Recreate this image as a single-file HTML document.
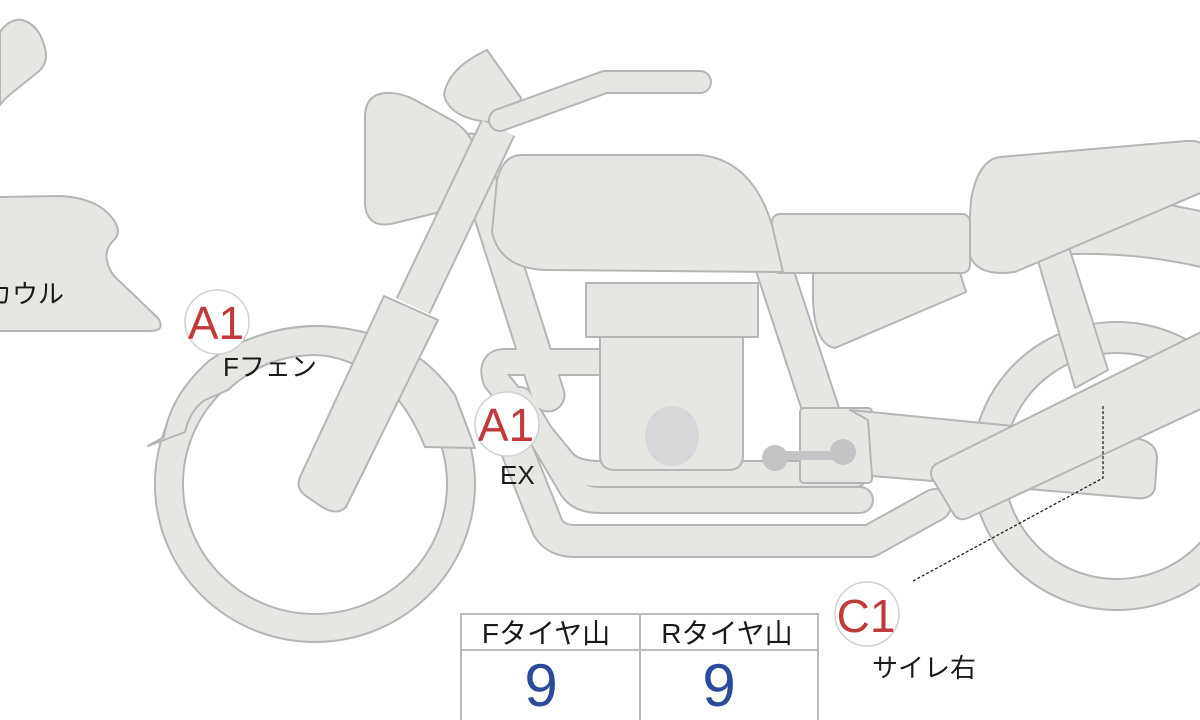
<!DOCTYPE html>
<html><head><meta charset="utf-8"><style>
html,body{margin:0;padding:0;background:#fff;width:1200px;height:720px;overflow:hidden}
svg{display:block}
text{font-family:"Liberation Sans","Noto Sans CJK JP",sans-serif}
</style></head><body>
<svg width="1200" height="720" viewBox="0 0 1200 720" xmlns="http://www.w3.org/2000/svg">
<g fill="#e6e7e3" stroke="#b3b5b7" stroke-width="2" stroke-linejoin="round">
<path d="M0,32 Q10,18 22,20 Q38,24 44,45 Q50,62 38,72 L18,88 Q5,98 0,105 Z"/>
<path d="M-2,197 L60,196 Q100,198 115,222 Q122,234 112,242 Q100,256 114,276 L158,318 Q166,331 150,331 L-2,331 Z"/>
<path fill-rule="evenodd" d="M972,466 A145,144 0 1,0 1262,466 A145,144 0 1,0 972,466 Z M1004,466 A113,113 0 1,0 1230,466 A113,113 0 1,0 1004,466 Z"/>
<path d="M1050,250 L1170,205 L1205,212 L1205,268 Q1130,250 1050,255 Z"/>
<path d="M1037,257 L1069,247 L1108,370 L1075,388 Z"/>
<path d="M1000,157 L1186,141 Q1205,140 1205,150 L1205,191 L1015,272 Q972,278 968,248 L971,200 Q978,160 1000,157 Z"/>
<path fill-rule="evenodd" d="M155,484 A160,158 0 1,0 475,484 A160,158 0 1,0 155,484 Z M183,484 A132,130 0 1,0 447,484 A132,130 0 1,0 183,484 Z"/>
<path d="M148,446 L164,437 Q170,395 210,360 Q260,326 320,326 Q410,330 455,395 L475,448 L425,447 Q408,405 380,380 Q340,350 300,356 Q260,360 228,390 L205,400 Q190,410 185,432 Z"/>
</g>
<g fill="none" stroke-linejoin="round" stroke-linecap="round">
<g stroke="#b3b5b7">
<path d="M470,150 L548,395" stroke-width="35"/>
<path d="M772,262 L838,462" stroke-width="38"/>
<path d="M505,420 L548,528 Q556,541 575,541 L870,541 L935,505" stroke-width="34"/>
<path d="M520,400 L572,488 Q580,500 600,500 L860,500" stroke-width="28"/>
<path d="M600,362 L505,362 Q490,362 496,380 L563,462 Q574,474 600,474 L855,474" stroke-width="28"/>
</g>
<g stroke="#e6e7e3">
<path d="M470,150 L548,395" stroke-width="31"/>
<path d="M772,262 L838,462" stroke-width="34"/>
<path d="M505,420 L548,528 Q556,541 575,541 L870,541 L935,505" stroke-width="30"/>
<path d="M520,400 L572,488 Q580,500 600,500 L860,500" stroke-width="24"/>
<path d="M600,362 L505,362 Q490,362 496,380 L563,462 Q574,474 600,474 L855,474" stroke-width="24"/>
</g>
</g>
<g fill="#e6e7e3" stroke="#b3b5b7" stroke-width="2" stroke-linejoin="round">
<path d="M600,336 L743,336 L743,455 Q743,470 728,470 L615,470 Q600,470 600,455 Z"/>
<rect x="586" y="283" width="172" height="54"/>
<rect x="800" y="408" width="72" height="75" rx="4"/>
<path d="M850,410 L1135,438 Q1157,442 1157,458 L1155,488 Q1152,500 1135,498 L872,476 L868,420 Z"/>
</g>
<ellipse cx="672" cy="436" rx="27" ry="30" fill="#d6d7d8"/>
<g fill="#c3c4c5">
<rect x="773" y="451" width="70" height="9"/>
<circle cx="775" cy="458" r="13"/><circle cx="843" cy="452" r="13"/>
</g>
<g fill="#e6e7e3" stroke="#b3b5b7" stroke-width="2" stroke-linejoin="round">
<path d="M940,462 L1205,330 L1205,407 L968,518 Q958,522 953,513 L932,478 Q928,467 940,462 Z"/>
<path d="M813,273 L960,273 L966,292 L835,348 Q815,345 813,300 Z"/>
<rect x="772" y="214" width="198" height="59" rx="8"/>
<path d="M522,155 L700,155 Q752,160 772,225 L783,272 L545,270 Q500,268 492,232 L497,180 Q503,155 522,155 Z"/>
<path d="M385,93 Q400,92 415,100 L455,122 Q480,140 477,170 Q472,200 440,212 L395,223 Q368,230 365,205 L365,115 Q366,95 385,93 Z"/>
<path d="M487,50 L521,98 Q518,117 488,122 Q450,118 444,95 Q448,68 487,50 Z"/>
</g>
<g fill="none" stroke-linejoin="round" stroke-linecap="round">
<path d="M498,128 L413,306" stroke="#b3b5b7" stroke-width="38" stroke-linecap="butt"/>
<path d="M498,128 L413,306" stroke="#e6e7e3" stroke-width="34" stroke-linecap="butt"/>
<path d="M500,120 L605,82 L700,82" stroke="#b3b5b7" stroke-width="24"/>
<path d="M500,120 L605,82 L700,82" stroke="#e6e7e3" stroke-width="20"/>
</g>
<g fill="#e6e7e3" stroke="#b3b5b7" stroke-width="2" stroke-linejoin="round">
<path d="M384,296 L438,320 L346,507 Q337,516 322,507 L306,496 Q295,488 300,477 Z"/>
</g>
<path d="M913,581 L1103,478 L1103,405" fill="none" stroke="#222" stroke-width="1.3" stroke-dasharray="3,2"/>
<g fill="#fff" stroke="#d0d0d0" stroke-width="1.5">
<circle cx="217" cy="322" r="32"/>
<circle cx="507" cy="424" r="32"/>
<circle cx="867" cy="614" r="32"/>
</g>
<g fill="#c0393b" font-size="46" text-anchor="middle">
<text x="216" y="339">A1</text>
<text x="506" y="441">A1</text>
<text x="866" y="632">C1</text>
</g>
<g fill="#1a1a1a" font-size="26">
<text x="-14" y="303">カウル</text>
<text x="223" y="376">Fフェン</text>
<text x="500" y="484">EX</text>
<text x="872" y="677">サイレ右</text>
</g>
<g fill="#fff" stroke="#b8babc" stroke-width="2">
<rect x="461" y="614" width="357" height="110"/>
<line x1="461" y1="650" x2="818" y2="650"/>
<line x1="640" y1="614" x2="640" y2="724"/>
</g>
<g font-size="28" fill="#1a1a1a" text-anchor="middle">
<text x="546" y="643">Fタイヤ山</text>
<text x="727" y="643">Rタイヤ山</text>
</g>
<g font-size="60" fill="#2d4a9a" text-anchor="middle">
<text x="541" y="706">9</text>
<text x="719" y="706">9</text>
</g>
</svg>
</body></html>
